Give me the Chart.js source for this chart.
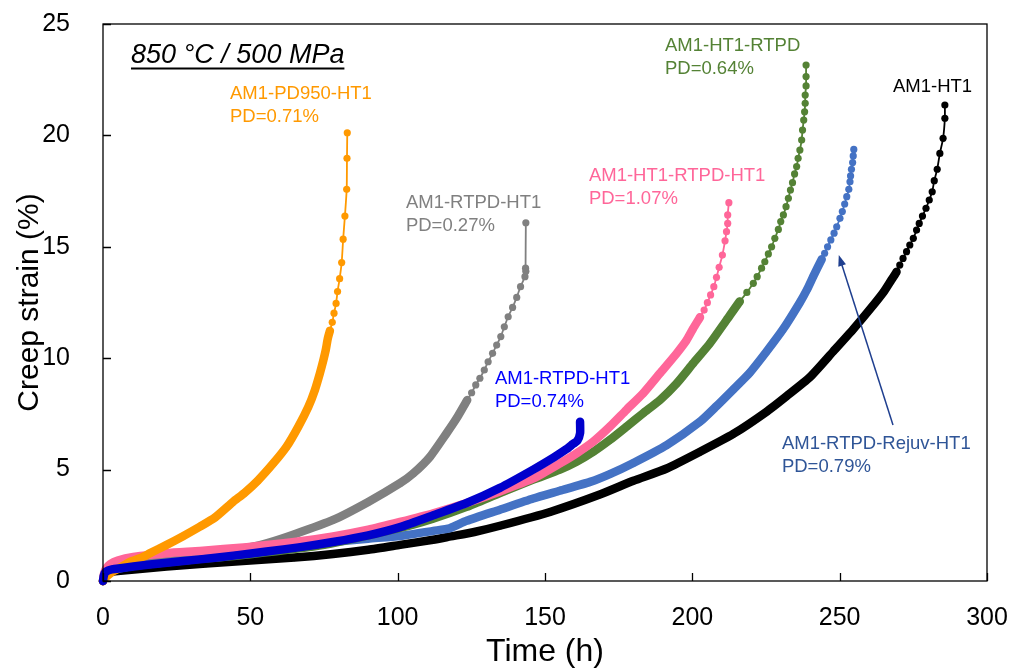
<!DOCTYPE html>
<html>
<head>
<meta charset="utf-8">
<script src="https://cdn.jsdelivr.net/npm/chart.js@4.4.0/dist/chart.umd.min.js"></script>
<style>
  html, body { margin: 0; padding: 0; background: #fff; }
  #wrap { width: 1013px; height: 671px; }
</style>
</head>
<body>
<div id="wrap"><canvas id="creepChart" width="1013" height="671"></canvas></div>
<script>
// creep curves: [time (h), strain (%)]
const am1Pd950Ht1 = [[0,0],[0.5,0.12],[1.2,0.2],[3,0.4],[6,0.62],[9,0.85],[12.6,1.02],[16,1.25],[21.6,1.62],[27,2.0],[32.9,2.44],[38,2.85],[44.2,3.56],[48,3.95],[52.5,4.5],[57.8,5.28],[62.3,6.03],[66.3,6.93],[69.7,7.82],[71.9,8.57],[73.6,9.32],[74.8,9.92],[75.6,10.37],[76.3,10.89],[77,11.23],[77.8,11.61],[78.4,12.02],[79.1,12.46],[79.6,12.99],[80.3,13.57],[81,14.29],[81.5,15.34],[82.1,16.38],[82.7,17.58],[82.8,18.97],[82.9,20.12]];
const am1RtpdHt1Gray = [[0,0],[0.5,0.2],[1.5,0.4],[5,0.6],[10,0.75],[20,0.95],[30,1.12],[40,1.3],[50,1.52],[55.5,1.69],[65,2.1],[78.1,2.74],[90,3.55],[100.8,4.39],[105.3,4.83],[111,5.58],[116.6,6.63],[120,7.3],[123.6,8.12],[125.1,8.45],[126.5,8.8],[127.9,9.1],[129.4,9.47],[130.7,9.84],[132.2,10.22],[133.6,10.59],[135,10.97],[136.2,11.41],[137.5,11.86],[139,12.28],[140.4,12.73],[141.7,13.21],[143.2,13.66],[143.5,13.9],[143.4,14.04],[143.5,16.08]];
const am1Ht1RtpdHt1 = [[0,0],[0.3,0.3],[1,0.55],[2.4,0.75],[5,0.92],[10.3,1.08],[21.6,1.25],[32.9,1.35],[48.8,1.52],[65,1.75],[78.1,2.0],[90,2.3],[100.8,2.65],[112.1,3.04],[123.4,3.5],[134.7,4.02],[146,4.6],[155.1,5.28],[160.7,5.73],[166.3,6.25],[172,6.93],[177.6,7.68],[183.3,8.42],[189,9.32],[194.7,10.22],[198,10.8],[200.3,11.34],[202.6,11.84],[204,12.16],[205.1,12.49],[206.2,12.84],[207.3,13.21],[208.2,13.63],[209.1,14.08],[210.2,14.63],[211.1,15.27],[211.6,15.68],[212,16.05],[212,16.43],[212.4,16.98]];
const am1RtpdHt1Blue = [[0,0],[0.3,0.25],[1,0.42],[3,0.52],[10.3,0.65],[20,0.8],[32.9,0.97],[45,1.15],[55.5,1.32],[67,1.52],[78,1.75],[90,2.05],[100.8,2.42],[112.1,2.95],[123.4,3.5],[134.7,4.18],[146,5.0],[153,5.55],[157.3,5.92],[159.5,6.15],[161,6.3],[161.9,6.63],[161.9,7.15]];
const am1Ht1Rtpd = [[0,0],[0.5,0.3],[2,0.48],[5,0.58],[15,0.75],[30,0.95],[50,1.2],[75,1.62],[100.8,2.38],[112,2.8],[123.4,3.33],[134.7,3.95],[146,4.55],[155.1,5.0],[160.7,5.35],[166.4,5.8],[172,6.33],[177.7,6.93],[183.3,7.53],[189,8.12],[194.7,8.87],[200.3,9.77],[206,10.67],[211.6,11.71],[216.1,12.55],[218.5,12.95],[220.7,13.36],[222,13.66],[223.5,14.04],[224.6,14.33],[225.8,14.68],[226.9,15.0],[228,15.38],[229.2,15.78],[230,16.13],[230.9,16.43],[231.8,16.8],[232.6,17.18],[233.3,17.55],[234,17.88],[234.7,18.27],[235.4,18.6],[235.9,18.97],[236.5,19.34],[237.1,19.79],[237.4,20.24],[237.8,20.69],[238.1,21.06],[238.3,21.44],[238.3,21.81],[238.6,22.22],[238.6,22.64],[238.6,23.16]];
const am1RtpdRejuvHt1 = [[0,0],[0.5,0.28],[2,0.45],[5,0.55],[21.6,0.95],[35,1.15],[49.9,1.35],[65,1.55],[78.1,1.75],[90,1.9],[100.8,2.02],[112.1,2.25],[117.7,2.37],[123.4,2.7],[134.7,3.2],[146,3.7],[155,4.05],[165.3,4.45],[172,4.8],[180,5.3],[191.3,6.1],[202.6,7.15],[208.2,7.85],[213.9,8.6],[219.5,9.35],[225.2,10.3],[230.8,11.3],[236.5,12.5],[239,13.1],[241,13.66],[243.9,14.44],[244.9,14.71],[245.9,15.0],[247,15.31],[248.1,15.61],[249,15.9],[250.1,16.28],[250.9,16.58],[251.7,16.92],[252.4,17.25],[253.1,17.58],[253.5,17.92],[253.7,18.18],[254,18.48],[254.4,18.78],[254.6,19.08],[254.8,19.37]];
const am1Ht1 = [[0,0],[0.5,0.22],[2,0.38],[5,0.45],[21.6,0.65],[35,0.78],[49.9,0.92],[65,1.05],[78.1,1.21],[90,1.4],[100.8,1.62],[112,1.85],[118,2.0],[126,2.2],[134.7,2.48],[151.7,3.1],[168.6,3.88],[180,4.5],[191.3,5.05],[202.6,5.8],[213.9,6.6],[225.2,7.6],[232,8.3],[239.9,9.15],[247.8,10.3],[254.6,11.3],[260.3,12.2],[264.8,12.95],[267,13.4],[269.3,13.88],[270.4,14.18],[271.5,14.48],[272.7,14.78],[273.8,15.08],[275,15.38],[276.1,15.75],[277,16.05],[278.1,16.38],[279.3,16.73],[280.4,17.1],[281.4,17.47],[282.1,17.97],[283.1,18.48],[284,19.19],[285.1,19.87],[285.7,20.77],[285.7,21.36]];

const xTicks = [0, 50, 100, 150, 200, 250, 300];
const yTicks = [0, 5, 10, 15, 20, 25];

// draw order: lower "order" ends up on top
const series = [
  { name: 'AM1-RTPD-HT1 (0.74%)', data: am1RtpdHt1Blue, color: '#0000CC', sparseFrom: 99, order: 0 },
  { name: 'AM1-PD950-HT1', data: am1Pd950Ht1, color: '#FF9900', sparseFrom: 11.0, order: 1 },
  { name: 'AM1-HT1-RTPD-HT1', data: am1Ht1RtpdHt1, color: '#FF6699', sparseFrom: 11.5, order: 2 },
  { name: 'AM1-RTPD-HT1 (0.27%)', data: am1RtpdHt1Gray, color: '#808080', sparseFrom: 8.0, order: 3 },
  { name: 'AM1-HT1-RTPD', data: am1Ht1Rtpd, color: '#548235', sparseFrom: 12.4, order: 4 },
  { name: 'AM1-RTPD-Rejuv-HT1', data: am1RtpdRejuvHt1, color: '#4472C4', sparseFrom: 14.2, order: 5 },
  { name: 'AM1-HT1', data: am1Ht1, color: '#000000', sparseFrom: 13.6, order: 6 }
];

// text labels, anchored at the middle-left of the first line (data coords)
const notes = [
  { lines: ['AM1-PD950-HT1', 'PD=0.71%'], color: '#FF9900', x: 43.1, y: 21.86 },
  { lines: ['AM1-RTPD-HT1', 'PD=0.27%'], color: '#808080', x: 102.8, y: 16.97 },
  { lines: ['AM1-RTPD-HT1', 'PD=0.74%'], color: '#0000FF', x: 133.0, y: 9.07 },
  { lines: ['AM1-HT1-RTPD-HT1', 'PD=1.07%'], color: '#FF6699', x: 164.9, y: 18.18 },
  { lines: ['AM1-HT1-RTPD', 'PD=0.64%'], color: '#548235', x: 190.7, y: 24.01 },
  { lines: ['AM1-HT1'], color: '#000000', x: 268.1, y: 22.17 },
  { lines: ['AM1-RTPD-Rejuv-HT1', 'PD=0.79%'], color: '#2F5597', x: 230.4, y: 6.15 }
];

const FONT = "'Liberation Sans', Arial, sans-serif";

const decorPlugin = {
  id: 'decor',
  afterDatasetsDraw(chart) {
    const ctx = chart.ctx;
    const a = chart.chartArea;
    const xs = chart.scales.x, ys = chart.scales.y;
    ctx.save();
    // frame
    ctx.strokeStyle = '#000';
    ctx.lineWidth = 1.3;
    ctx.strokeRect(a.left, a.top, a.right - a.left, a.bottom - a.top);
    // inside ticks
    ctx.beginPath();
    xTicks.forEach(v => {
      const px = Math.round(xs.getPixelForValue(v)) + 0.5;
      ctx.moveTo(px, a.bottom);
      ctx.lineTo(px, a.bottom - 8);
    });
    yTicks.forEach(v => {
      const py = Math.round(ys.getPixelForValue(v)) + 0.5;
      ctx.moveTo(a.left, py);
      ctx.lineTo(a.left + 8, py);
    });
    ctx.stroke();

    // condition text
    ctx.font = 'italic 27px ' + FONT;
    ctx.fillStyle = '#000';
    ctx.textBaseline = 'alphabetic';
    ctx.textAlign = 'left';
    const tx = xs.getPixelForValue(9.5), ty = ys.getPixelForValue(23.25);
    const title = '850 °C / 500 MPa';
    ctx.fillText(title, tx, ty);
    const w = ctx.measureText(title).width;
    ctx.lineWidth = 1.8;
    ctx.beginPath();
    ctx.moveTo(tx, ty + 5.5);
    ctx.lineTo(tx + w, ty + 5.5);
    ctx.stroke();

    // sample labels
    ctx.font = '18.5px ' + FONT;
    ctx.textBaseline = 'middle';
    notes.forEach(n => {
      ctx.fillStyle = n.color;
      const nx = xs.getPixelForValue(n.x), ny = ys.getPixelForValue(n.y);
      n.lines.forEach((t, i) => ctx.fillText(t, nx, ny + i * 23));
    });

    // arrow to the rejuvenated curve
    const x0 = xs.getPixelForValue(268.1), y0 = ys.getPixelForValue(7.0);
    const x1 = xs.getPixelForValue(249.7), y1 = ys.getPixelForValue(14.63);
    const ang = Math.atan2(y1 - y0, x1 - x0);
    ctx.strokeStyle = '#1F3F8F';
    ctx.fillStyle = '#1F3F8F';
    ctx.lineWidth = 1.5;
    ctx.beginPath();
    ctx.moveTo(x0, y0);
    ctx.lineTo(x1 - 8 * Math.cos(ang), y1 - 8 * Math.sin(ang));
    ctx.stroke();
    ctx.beginPath();
    ctx.moveTo(x1, y1);
    ctx.lineTo(x1 - 11 * Math.cos(ang) + 4 * Math.sin(ang), y1 - 11 * Math.sin(ang) - 4 * Math.cos(ang));
    ctx.lineTo(x1 - 11 * Math.cos(ang) - 4 * Math.sin(ang), y1 - 11 * Math.sin(ang) + 4 * Math.cos(ang));
    ctx.closePath();
    ctx.fill();
    ctx.restore();
  }
};

const datasets = series.map(s => ({
  label: s.name,
  data: s.data.map(p => ({ x: p[0], y: p[1] })),
  showLine: true,
  tension: 0.2,
  borderColor: s.color,
  backgroundColor: s.color,
  pointBackgroundColor: s.color,
  pointBorderWidth: 0,
  pointRadius: 3.6,
  pointHoverRadius: 3.6,
  borderCapStyle: 'round',
  borderJoinStyle: 'round',
  borderWidth: 8.5,
  segment: {
    borderWidth: c => (c.p0.parsed.y >= s.sparseFrom ? 1.8 : 8.5)
  },
  order: s.order,
  clip: false
}));

const myChart = new Chart(document.getElementById('creepChart'), {
  type: 'scatter',
  data: { datasets: datasets },
  options: {
    responsive: false,
    animation: false,
    layout: { padding: { left: 0, right: 26, top: 24, bottom: 0 } },
    plugins: {
      legend: { display: false },
      tooltip: { enabled: false }
    },
    scales: {
      x: {
        type: 'linear',
        min: 0,
        max: 300,
        afterFit: scale => {
          scale.height = 90;
          scale.paddingLeft = 0;
          scale.paddingRight = 0;
        },
        afterBuildTicks: scale => { scale.ticks = xTicks.map(v => ({ value: v })); },
        grid: { display: false },
        border: { display: false },
        ticks: { color: '#000', font: { family: FONT, size: 25 }, padding: 14, maxRotation: 0 },
        title: { display: true, text: 'Time (h)', color: '#000', font: { family: FONT, size: 32 }, padding: { top: 0, bottom: 0 } }
      },
      y: {
        type: 'linear',
        min: 0,
        max: 25,
        afterFit: scale => {
          scale.width = 103;
          scale.paddingTop = 0;
          scale.paddingBottom = 0;
        },
        afterBuildTicks: scale => { scale.ticks = yTicks.map(v => ({ value: v })); },
        grid: { display: false },
        border: { display: false },
        ticks: { color: '#000', font: { family: FONT, size: 25 }, padding: 25 },
        title: { display: true, text: 'Creep strain (%)', color: '#000', font: { family: FONT, size: 30 }, padding: { top: 12, bottom: 0 } }
      }
    }
  },
  plugins: [decorPlugin]
});
</script>
</body>
</html>
